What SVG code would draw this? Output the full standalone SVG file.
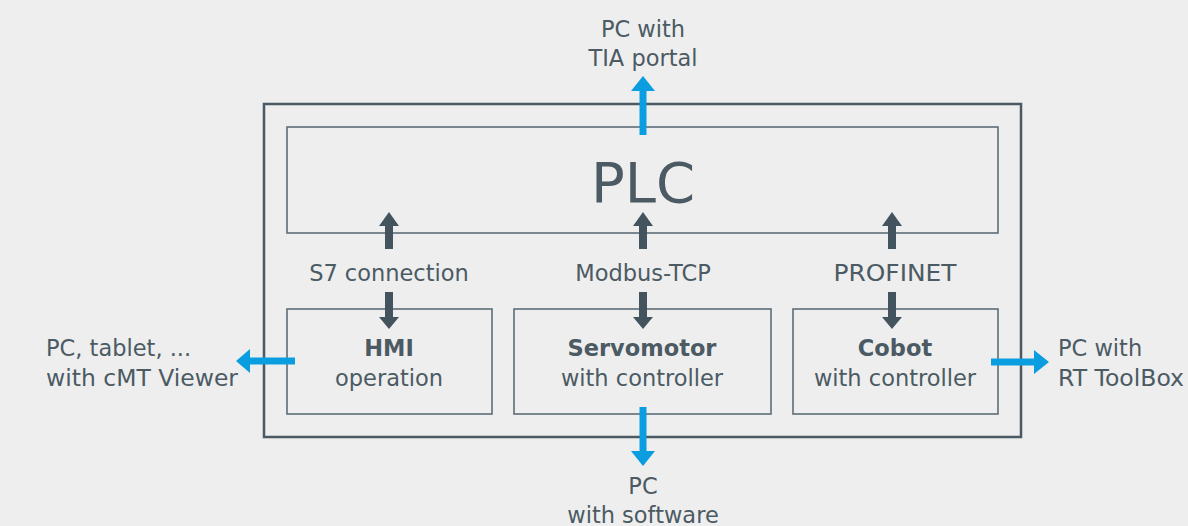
<svg xmlns="http://www.w3.org/2000/svg" width="1188" height="526" viewBox="0 0 1188 526">
<style>
.bg{fill:#eeeeee}
.outer{fill:none;stroke:#4a5962;stroke-width:2.5}
.box{fill:none;stroke:#5e6d76;stroke-width:1.6}
.t{font-family:"DejaVu Sans","Liberation Sans",sans-serif;font-size:22.5px;fill:#4b5a63}
.c{text-anchor:middle}
.b{font-weight:bold}
.plc{font-family:"DejaVu Sans","Liberation Sans",sans-serif;font-size:56px;fill:#4b5a63;text-anchor:middle}
.dark{fill:#44545e}
.blue{fill:#0a9de0}
</style>
<rect class="bg" x="0" y="0" width="1188" height="526"/>
<g id="system">
<rect class="outer" x="264" y="104" width="757" height="333"/>
</g>
<g id="plc">
<rect class="box" x="287" y="127" width="711" height="106"/>
<text class="plc" x="643" y="202">PLC</text>
</g>
<g id="hmi">
<rect class="box" x="287" y="309" width="205" height="105"/>
<text class="t c b" x="389" y="356">HMI</text>
<text class="t c" x="389" y="386">operation</text>
</g>
<g id="servomotor">
<rect class="box" x="514" y="309" width="257" height="105"/>
<text class="t c b" x="642" y="356">Servomotor</text>
<text class="t c" x="642" y="386">with controller</text>
</g>
<g id="cobot">
<rect class="box" x="793" y="309" width="205" height="105"/>
<text class="t c b" x="895" y="356">Cobot</text>
<text class="t c" x="895" y="386">with controller</text>
</g>
<g id="pc-tia">
<text class="t c" x="643" y="37">PC with</text>
<text class="t c" x="643" y="66">TIA portal</text>
</g>
<g id="pc-cmt">
<text class="t" x="46" y="356">PC, tablet, ...</text>
<text class="t" x="46" y="386" textLength="192" lengthAdjust="spacingAndGlyphs">with cMT Viewer</text>
</g>
<g id="pc-rt">
<text class="t" x="1058" y="356">PC with</text>
<text class="t" x="1058" y="386" textLength="126" lengthAdjust="spacingAndGlyphs">RT ToolBox</text>
</g>
<g id="pc-software">
<text class="t c" x="643" y="494">PC</text>
<text class="t c" x="643" y="523">with software</text>
</g>
<g id="connectors">
<text class="t c" x="389" y="281">S7 connection</text>
<text class="t c" x="643" y="281">Modbus-TCP</text>
<text class="t c" x="895" y="281" textLength="123" lengthAdjust="spacingAndGlyphs">PROFINET</text>
<polygon class="dark" points="385,249 393,249 393,226 399,226 389,212 379,226 385,226"/>
<polygon class="dark" points="385,292 393,292 393,317 399,317 389,329 379,317 385,317"/>
<polygon class="dark" points="639,249 647,249 647,226 653,226 643,212 633,226 639,226"/>
<polygon class="dark" points="639,292 647,292 647,317 653,317 643,329 633,317 639,317"/>
<polygon class="dark" points="888,249 896,249 896,226 902,226 892,212 882,226 888,226"/>
<polygon class="dark" points="888,292 896,292 896,317 902,317 892,329 882,317 888,317"/>
<polygon class="blue" points="639.5,135 646.5,135 646.5,91 655,91 643,76 631,91 639.5,91"/>
<polygon class="blue" points="639.5,407 646.5,407 646.5,451 655,451 643,466 631,451 639.5,451"/>
<polygon class="blue" points="295,357.5 295,364.5 250,364.5 250,373 236,361 250,349 250,357.5"/>
<polygon class="blue" points="991,358.5 991,365.5 1034,365.5 1034,374 1049,362 1034,350 1034,358.5"/>
</g>
</svg>
